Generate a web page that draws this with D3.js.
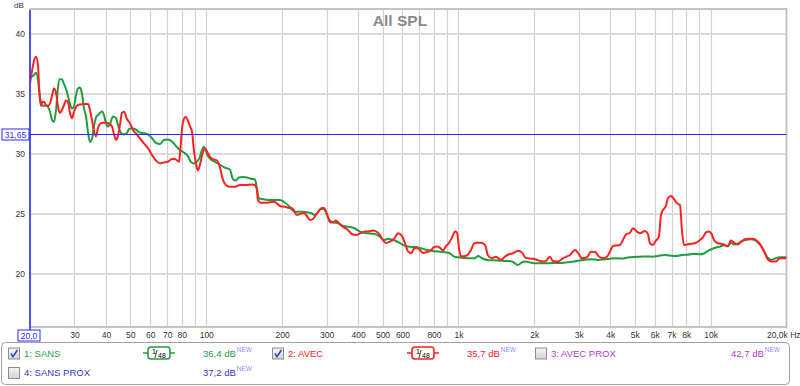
<!DOCTYPE html>
<html>
<head>
<meta charset="utf-8">
<script src="https://cdn.jsdelivr.net/npm/d3@7"></script>
<style>
    body { margin: 0; background: #fff; }
    svg { display: block; font-family: "Liberation Sans", Arial, sans-serif; }
</style>
</head>
<body>
<svg id="chart" width="800" height="386"></svg>
<script>
// ---- données ----
const sansFreq = [20.0, 20.37, 20.74, 21.12, 21.52, 21.92, 22.32, 22.74, 23.16, 23.59,
    24.02, 24.46, 24.91, 25.37, 25.84, 26.30, 26.78, 27.28, 27.78, 28.29,
    28.82, 29.35, 29.89, 30.44, 31.00, 31.57, 32.15, 32.74, 33.34, 33.96,
    34.58, 35.22, 35.87, 36.53, 37.21, 37.89, 38.59, 39.30, 40.02, 40.76,
    41.51, 42.66, 43.85, 44.65, 45.48, 46.32, 47.17, 48.48, 49.36, 50.28,
    51.20, 52.63, 54.58, 56.61, 58.72, 60.89, 63.15, 65.50, 67.94, 70.46,
    73.08, 75.80, 78.61, 81.53, 84.56, 86.91, 89.32, 92.64, 94.35, 96.09,
    97.86, 99.66, 101.5, 103.4, 107.2, 111.2, 115.3, 119.6, 124.1, 127.5,
    131.1, 134.7, 139.8, 144.9, 150.3, 155.9, 158.8, 161.7, 167.7, 175.7,
    182.2, 189.0, 195.9, 203.2, 210.7, 218.6, 226.7, 235.2, 243.9, 253.0,
    262.5, 269.7, 277.2, 284.9, 292.8, 301.0, 309.3, 320.8, 332.8, 345.2,
    358.0, 371.3, 385.2, 399.5, 414.3, 429.8, 445.8, 466.6, 488.4, 506.6,
    525.5, 545.1, 565.3, 586.4, 608.2, 630.9, 654.3, 678.7, 704.0, 736.9,
    771.3, 807.4, 845.2, 884.7, 917.7, 943.2, 969.4, 1014, 1062, 1112,
    1163, 1196, 1241, 1299, 1359, 1423, 1489, 1558, 1631, 1676,
    1723, 1771, 1837, 1922, 2029, 2144, 2264, 2414, 2574, 2718,
    2872, 3033, 3204, 3384, 3574, 3776, 3989, 4213, 4450, 4702,
    4967, 5246, 5541, 5854, 6184, 6531, 6899, 7288, 7698, 8132,
    8590, 9074, 9411, 9761, 10124, 10500, 10891, 11297, 11717, 12043,
    12377, 12837, 13314, 13809, 14323, 14856, 15408, 15836, 16276, 16728,
    17351, 17996, 18836, 20000];

const sansDb = [36.42, 36.46, 36.58, 36.78, 36.17, 34.67, 34.08, 34.0, 34.08, 33.92,
    33.5, 32.83, 32.69, 33.67, 35.58, 36.25, 36.21, 35.83, 35.42, 34.83,
    34.17, 33.79, 33.96, 34.92, 35.46, 35.54, 35.0, 33.83, 33.11, 31.83,
    31.0, 31.25, 32.33, 33.04, 33.25, 33.42, 33.54, 33.25, 32.58, 32.29,
    32.5, 33.13, 33.0, 32.42, 31.92, 31.67, 31.63, 31.75, 32.08, 32.13,
    32.13, 32.04, 31.79, 31.73, 31.63, 31.33, 30.92, 30.83, 31.17, 31.21,
    31.04, 30.67, 30.33, 30.13, 29.83, 29.33, 29.21, 29.46, 29.75, 30.33,
    30.61, 30.25, 29.83, 29.63, 29.38, 29.21, 29.0, 28.83, 28.71, 27.92,
    27.79, 28.04, 28.08, 28.04, 27.94, 27.89, 27.11, 26.31, 26.23, 26.17,
    26.17, 26.17, 26.17, 26.0, 25.75, 25.33, 25.19, 25.19, 25.19, 25.13,
    25.04, 24.92, 25.17, 25.42, 25.42, 24.92, 24.46, 24.29, 24.25, 24.04,
    23.96, 23.92, 23.83, 23.63, 23.46, 23.39, 23.38, 23.33, 23.11, 22.83,
    22.92, 22.88, 22.75, 22.58, 22.38, 22.29, 22.25, 22.25, 22.17, 22.04,
    21.96, 21.89, 21.86, 21.81, 21.75, 21.58, 21.42, 21.38, 21.33, 21.31,
    21.31, 21.5, 21.31, 21.17, 21.14, 21.13, 21.11, 21.08, 21.04, 20.89,
    20.75, 20.92, 21.03, 20.96, 20.89, 20.89, 20.89, 20.92, 20.92, 20.98,
    21.04, 21.13, 21.19, 21.23, 21.17, 21.21, 21.27, 21.31, 21.28, 21.38,
    21.42, 21.44, 21.46, 21.44, 21.5, 21.58, 21.53, 21.5, 21.58, 21.61,
    21.67, 21.64, 21.71, 21.92, 22.08, 22.21, 22.28, 22.39, 22.29, 22.6,
    22.46, 22.54, 22.73, 22.83, 22.89, 22.86, 22.63, 22.33, 21.92, 21.46,
    21.17, 21.29, 21.39, 21.39];

const avecFreq = [20.0, 20.37, 20.74, 21.12, 21.52, 21.72, 21.92, 22.12, 22.32, 22.74,
    23.16, 23.59, 24.02, 24.46, 24.91, 25.37, 25.84, 26.30, 26.78, 27.28,
    27.78, 28.29, 28.82, 29.35, 29.89, 30.44, 31.00, 31.57, 32.74, 33.96,
    34.58, 35.22, 35.87, 36.53, 37.21, 37.89, 38.94, 40.02, 41.13, 42.28,
    43.05, 43.85, 44.65, 45.48, 46.32, 47.17, 48.48, 49.82, 51.20, 52.63,
    54.58, 56.61, 58.72, 60.89, 63.15, 65.50, 67.94, 70.46, 73.08, 75.11,
    77.90, 78.61, 80.06, 81.53, 83.03, 84.56, 86.12, 87.71, 89.32, 90.97,
    92.64, 94.35, 96.09, 98.75, 101.5, 104.3, 107.2, 110.2, 113.2, 116.3,
    119.6, 124.1, 129.9, 135.9, 143.6, 151.6, 155.9, 158.8, 160.2, 164.7,
    172.4, 178.8, 185.4, 190.5, 197.7, 205.1, 212.7, 216.6, 222.7, 228.8,
    235.2, 243.9, 250.8, 257.7, 264.9, 272.2, 279.7, 287.5, 292.8, 301.0,
    309.3, 317.9, 326.8, 338.9, 351.5, 364.6, 378.2, 392.3, 406.8, 422.0,
    437.7, 458.2, 475.3, 488.4, 502.0, 516.0, 535.2, 555.1, 575.8, 597.2,
    613.8, 630.9, 648.4, 666.4, 684.9, 704.0, 723.5, 750.5, 778.4, 800.0,
    822.3, 845.2, 868.7, 892.8, 917.7, 943.2, 969.4, 987.3, 1005, 1023,
    1062, 1091, 1122, 1153, 1184, 1229, 1275, 1310, 1359, 1410,
    1475, 1530, 1587, 1646, 1723, 1787, 1854, 1940, 2029, 2105,
    2203, 2306, 2370, 2481, 2597, 2693, 2768, 2898, 2978, 3089,
    3233, 3353, 3478, 3608, 3740, 3881, 3989, 4100, 4252, 4370,
    4491, 4617, 4789, 4922, 5104, 5246, 5491, 5644, 5748, 5908,
    6071, 6240, 6356, 6473, 6651, 6773, 6962, 7156, 7355, 7559,
    7698, 7840, 8058, 8282, 8669, 9074, 9326, 9585, 9851, 10124,
    10311, 10694, 11194, 11717, 12043, 12490, 12837, 13193, 13809, 14323,
    14856, 15408, 15836, 16276, 16877, 17510, 18161, 18836, 20000];

const avecDb = [35.89, 36.92, 37.75, 38.11, 37.42, 35.61, 34.5, 34.0, 34.33, 34.33,
    34.04, 34.0, 34.23, 34.88, 35.46, 35.08, 33.92, 33.42, 33.67, 34.08,
    34.46, 34.33, 33.42, 32.98, 33.5, 33.92, 34.08, 34.13, 34.17, 34.17,
    33.67, 32.83, 31.92, 31.46, 32.17, 32.5, 32.61, 32.61, 32.53, 32.29,
    31.67, 31.17, 31.5, 32.42, 33.42, 33.53, 32.92, 32.56, 32.0, 31.73,
    31.31, 30.88, 30.5, 29.92, 29.46, 29.22, 29.29, 29.36, 29.58, 29.58,
    29.36, 29.92, 32.0, 32.92, 33.08, 32.79, 32.33, 31.92, 30.33, 29.25,
    28.63, 29.08, 29.83, 30.48, 30.06, 29.67, 29.54, 29.46, 28.92, 27.88,
    27.42, 27.28, 27.28, 27.42, 27.42, 27.46, 27.42, 27.0, 26.17, 25.94,
    25.94, 25.98, 26.03, 25.89, 25.63, 25.61, 25.5, 25.54, 25.29, 24.92,
    25.0, 25.08, 24.83, 24.5, 24.58, 24.92, 25.25, 25.5, 25.5, 25.0,
    24.33, 24.29, 24.46, 24.13, 23.88, 23.67, 23.33, 23.25, 23.38, 23.53,
    23.54, 23.63, 23.5, 23.25, 22.79, 22.58, 22.69, 22.92, 23.39, 23.17,
    22.56, 21.88, 21.73, 22.1, 22.19, 22.0, 21.75, 21.83, 21.96, 22.25,
    22.29, 22.17, 21.96, 22.33, 22.58, 23.04, 23.53, 23.46, 22.17, 21.46,
    21.5, 21.63, 22.0, 22.54, 22.61, 22.61, 22.42, 21.54, 21.31, 21.44,
    21.18, 21.46, 21.64, 21.73, 21.94, 21.78, 21.33, 21.28, 21.21, 21.08,
    21.03, 21.44, 21.08, 21.03, 21.31, 21.46, 21.58, 22.0, 21.78, 21.31,
    21.39, 21.86, 21.83, 21.46, 21.31, 21.44, 21.86, 22.33, 22.38, 22.42,
    22.83, 23.29, 23.44, 23.81, 23.53, 23.39, 23.58, 23.33, 22.56, 22.42,
    22.79, 23.11, 24.92, 25.33, 25.67, 26.31, 26.5, 26.25, 25.89, 25.75,
    23.67, 22.42, 22.46, 22.5, 22.56, 22.83, 23.06, 23.46, 23.54, 23.29,
    22.83, 22.56, 22.48, 22.33, 22.78, 22.56, 22.46, 22.69, 22.92, 22.93,
    22.92, 22.69, 22.38, 21.92, 21.21, 21.03, 21.04, 21.31, 21.31];

// axes
const yTicks = [20, 25, 30, 35, 40];
const xTickVals = [30, 40, 50, 60, 70, 80, 100, 200, 300, 400, 500, 600, 800,
    1000, 2000, 3000, 4000, 5000, 6000, 7000, 8000, 10000];
const xTickText = ["30", "40", "50", "60", "70", "80", "100", "200", "300", "400", "500", "600", "800",
    "1k", "2k", "3k", "4k", "5k", "6k", "7k", "8k", "10k"];
const markerDb = 31.65;

// légende
const legendNames = ["1: SANS", "2: AVEC", "3: AVEC PROX", "4: SANS PROX"];
const legendValues = ["36,4 dB", "35,7 dB", "42,7 dB", "37,2 dB"];
const legendChecked = [true, true, false, false];

const colors = {
    sans: "#1f9e3f",
    avec: "#ff2121",
    avecProx: "#b03cc0",
    sansProx: "#3535d0",
    marker: "#2a2aff",
    grid: "#d2d2d2",
    text: "#333"
};

const plot = {left: 30, right: 786.5, top: 10, bottom: 327};

const svg = d3.select("#chart");

const x = d3.scaleLog().domain([20, 20000]).range([plot.left, plot.right]);
const y = d3.scaleLinear().domain([15.58, 41.92]).range([plot.bottom, plot.top + 1]);

// grille
const grid = svg.append("g").attr("class", "grid");
const gridFreqs = [];
[10, 100, 1000, 10000].forEach(function (d) {
    for (let m = 1; m <= 9; m++) {
        const f = d * m;
        if (f > 20 && f < 20000) gridFreqs.push(f);
    }
});
grid.selectAll("line.v")
    .data(gridFreqs)
    .enter().append("line")
    .attr("class", "v")
    .attr("x1", d => Math.round(x(d)) + 0.5)
    .attr("x2", d => Math.round(x(d)) + 0.5)
    .attr("y1", plot.top)
    .attr("y2", plot.bottom)
    .attr("stroke", colors.grid)
    .attr("stroke-width", 1.2);

grid.selectAll("line.h")
    .data(yTicks)
    .enter().append("line")
    .attr("class", "h")
    .attr("x1", plot.left)
    .attr("x2", plot.right)
    .attr("y1", d => y(d))
    .attr("y2", d => y(d))
    .attr("stroke", "#dcdcdc")
    .attr("stroke-width", 2);

// cadre
svg.append("rect")
    .attr("x", plot.left)
    .attr("y", plot.top - 1)
    .attr("width", plot.right - plot.left)
    .attr("height", plot.bottom - plot.top + 1)
    .attr("fill", "none")
    .attr("stroke", "#c4c4c4")
    .attr("stroke-width", 2);

// titre
svg.append("text")
    .attr("x", 400)
    .attr("y", 25.5)
    .attr("text-anchor", "middle")
    .attr("font-size", 15.5)
    .attr("font-weight", "bold")
    .attr("fill", "#8a8a8a")
    .text("All SPL");

svg.append("text")
    .attr("x", 14)
    .attr("y", 8)
    .attr("font-size", 8)
    .attr("fill", colors.text)
    .text("dB");

// axe Y
const yAxis = d3.axisLeft(y).tickValues(yTicks).tickSize(0).tickPadding(5).tickFormat(d3.format("d"));
const gy = svg.append("g").attr("transform", "translate(" + plot.left + ",0)").call(yAxis);
gy.select(".domain").remove();
gy.selectAll("text").attr("font-size", 8.5).attr("fill", colors.text).attr("font-family", null);

// axe X
const xAxis = d3.axisBottom(x).tickValues(xTickVals).tickSize(0).tickPadding(5)
    .tickFormat((d, i) => xTickText[i]);
const gx = svg.append("g").attr("transform", "translate(0," + plot.bottom + ")").call(xAxis);
gx.select(".domain").remove();
gx.selectAll("text").attr("font-size", 8.5).attr("fill", colors.text).attr("font-family", null);

svg.append("text")
    .attr("x", 767)
    .attr("y", 338)
    .attr("font-size", 8.5)
    .attr("fill", colors.text)
    .text("20,0k Hz");

// courbes
svg.append("clipPath").attr("id", "clip")
    .append("rect")
    .attr("x", plot.left)
    .attr("y", plot.top)
    .attr("width", plot.right - plot.left)
    .attr("height", plot.bottom - plot.top);

const line = d3.line()
    .x(d => x(d[0]))
    .y(d => y(d[1]))
    .curve(d3.curveMonotoneX);

const curves = svg.append("g").attr("clip-path", "url(#clip)");

curves.append("path")
    .datum(sansFreq.map((f, i) => [f, sansDb[i]]))
    .attr("d", line)
    .attr("fill", "none")
    .attr("stroke", colors.sans)
    .attr("stroke-width", 2)
    .attr("stroke-linejoin", "round");

curves.append("path")
    .datum(avecFreq.map((f, i) => [f, avecDb[i]]))
    .attr("d", line)
    .attr("fill", "none")
    .attr("stroke", colors.avec)
    .attr("stroke-width", 2)
    .attr("stroke-linejoin", "round");

// ligne du curseur
svg.append("line")
    .attr("x1", plot.left)
    .attr("x2", plot.right)
    .attr("y1", Math.round(y(markerDb)) + 0.5)
    .attr("y2", Math.round(y(markerDb)) + 0.5)
    .attr("stroke", colors.marker)
    .attr("stroke-width", 1);

svg.append("line")
    .attr("x1", plot.left)
    .attr("x2", plot.left)
    .attr("y1", plot.top)
    .attr("y2", 330)
    .attr("stroke", colors.marker)
    .attr("stroke-width", 1.5);

// étiquettes encadrées
function boxedLabel(cx, cy, w, txt) {
    svg.append("rect")
        .attr("x", cx - w / 2)
        .attr("y", cy - 5.5)
        .attr("width", w)
        .attr("height", 11)
        .attr("fill", "#fff")
        .attr("stroke", colors.marker)
        .attr("stroke-width", 1);
    svg.append("text")
        .attr("x", cx)
        .attr("y", cy + 3)
        .attr("text-anchor", "middle")
        .attr("font-size", 8.5)
        .attr("fill", colors.marker)
        .text(txt);
}
boxedLabel(15.5, Math.round(y(markerDb)) + 0.5, 27, d3.format(".2f")(markerDb).replace(".", ","));
boxedLabel(29, 335.5, 22, "20,0");

// légende
const legend = svg.append("g");
legend.append("rect")
    .attr("x", 1.5)
    .attr("y", 342.5)
    .attr("width", 788)
    .attr("height", 42)
    .attr("rx", 4)
    .attr("fill", "#fff")
    .attr("stroke", "#a0a0a0")
    .attr("stroke-width", 1);

const grad = svg.append("defs").append("linearGradient")
    .attr("id", "cb").attr("x1", 0).attr("y1", 0).attr("x2", 0).attr("y2", 1);
grad.append("stop").attr("offset", "0%").attr("stop-color", "#f4f4f4");
grad.append("stop").attr("offset", "100%").attr("stop-color", "#d4d4d4");

function checkbox(cx, cy, checked) {
    const g = legend.append("g").attr("transform", "translate(" + cx + "," + cy + ")");
    g.append("rect")
        .attr("x", 0.5).attr("y", 0.5)
        .attr("width", 11).attr("height", 11)
        .attr("fill", "url(#cb)")
        .attr("stroke", "#8e8e8e");
    if (checked) {
        g.append("path")
            .attr("d", "M3,6 L5,9 L9.5,2.5")
            .attr("fill", "none")
            .attr("stroke", "#2d4fb5")
            .attr("stroke-width", 1.6);
    }
}

function filterIcon(cx, cy, color) {
    const g = legend.append("g").attr("transform", "translate(" + cx + "," + cy + ")");
    g.append("line").attr("x1", -5).attr("x2", 27).attr("y1", 6).attr("y2", 6)
        .attr("stroke", color).attr("stroke-width", 1.5);
    g.append("rect").attr("x", 0).attr("y", 0).attr("width", 22).attr("height", 12).attr("rx", 3)
        .attr("fill", "#fff").attr("stroke", color).attr("stroke-width", 1.6);
    g.append("text").attr("x", 4).attr("y", 7).attr("font-size", 7).attr("fill", "#000").text("1");
    g.append("text").attr("x", 6.5).attr("y", 10.5).attr("font-size", 10).attr("fill", "#000").text("/");
    g.append("text").attr("x", 10).attr("y", 11).attr("font-size", 7).attr("fill", "#000").text("48");
}

function legendEntry(i, bx, by, color, valueX) {
    checkbox(bx, by - 9, legendChecked[i]);
    legend.append("text")
        .attr("x", bx + 16).attr("y", by)
        .attr("font-size", 9.5).attr("fill", color)
        .text(legendNames[i]);
    const t = legend.append("text")
        .attr("x", valueX).attr("y", by)
        .attr("font-size", 9.5).attr("fill", color)
        .text(legendValues[i]);
    const w = t.node().getComputedTextLength();
    legend.append("text")
        .attr("x", valueX + w + 1).attr("y", by - 5)
        .attr("font-size", 6.5).attr("fill", "#8f8fff")
        .text("NEW");
}

legendEntry(0, 8, 356.5, colors.sans, 203);
filterIcon(148, 347, colors.sans);
legendEntry(1, 272, 356.5, colors.avec, 467);
filterIcon(412, 347, colors.avec);
legendEntry(2, 535, 356.5, colors.avecProx, 731);
legendEntry(3, 8, 376, colors.sansProx, 203);
</script>
</body>
</html>
